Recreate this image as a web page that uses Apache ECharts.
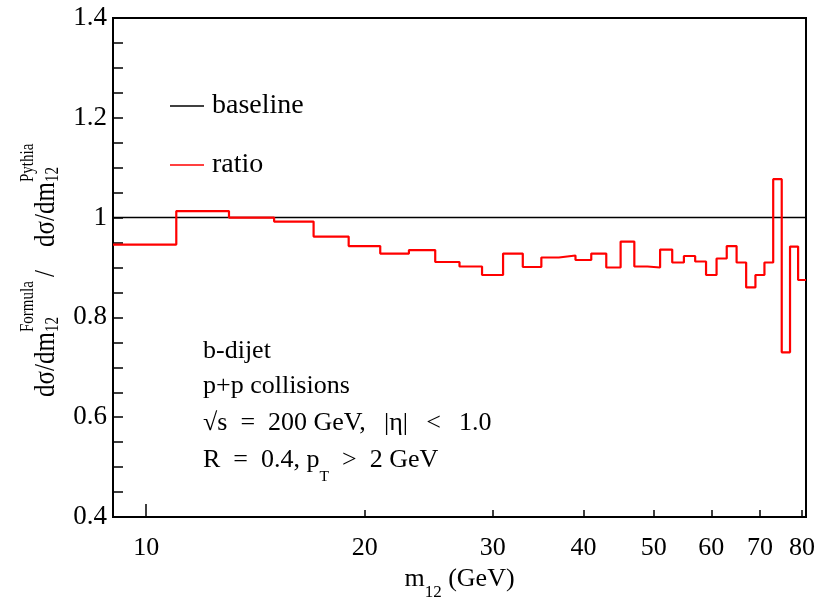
<!DOCTYPE html>
<html>
<head>
<meta charset="utf-8">
<script src="https://cdn.jsdelivr.net/npm/echarts@6/dist/echarts.min.js"></script>
<style>
  html, body { margin: 0; padding: 0; background: #fff; }
  #chart { width: 833px; height: 598px; }
</style>
</head>
<body>
<div id="chart"></div>
<script>
// bin edges of m12 (GeV), 2 GeV wide
const binEdges = [9, 11, 13, 15, 17, 19, 21, 23, 25, 27, 29, 31, 33, 35, 37, 39, 41, 43, 45,
  47, 49, 51, 53, 55, 57, 59, 61, 63, 65, 67, 69, 71, 73, 75, 77, 79, 81]
// Formula / Pythia ratio per bin
const ratio = [0.946, 1.013, 1.000, 0.992, 0.962, 0.943, 0.928, 0.935, 0.911, 0.902,
  0.885, 0.928, 0.901, 0.920, 0.924, 0.915, 0.928, 0.900, 0.952, 0.902,
  0.900, 0.936, 0.910, 0.923, 0.912, 0.885, 0.918, 0.943, 0.910, 0.860,
  0.885, 0.910, 1.077, 0.730, 0.942, 0.875]
const baseline = [1, 1]
const xTicks = [10, 20, 30, 40, 50, 60, 70, 80]
const xRange = [9, 81]
const yRange = [0.4, 1.4]

const serif = '"Liberation Serif", "DejaVu Serif", serif'
const sp = '\u2002' // wider space, like the TLatex spacing
const wsp = '\u2002\u2009'

const chart = echarts.init(document.getElementById('chart'))

// step data: each bin's value starts at its lower edge, last point closes the bin
const stepData = binEdges.map((e, i) => [e, ratio[Math.min(i, ratio.length - 1)]])

chart.setOption({
  animation: false,
  backgroundColor: '#fff',
  grid: {
    left: 113, right: 27, top: 18, bottom: 81,
    outerBoundsMode: 'none',
    show: true, borderColor: '#000', borderWidth: 2, backgroundColor: 'transparent'
  },
  legend: {
    orient: 'vertical',
    left: 165, top: 86,
    itemWidth: 34, itemHeight: 1.5, itemGap: 29,
    data: [{ name: 'baseline', icon: 'rect' }, { name: 'ratio', icon: 'rect' }],
    textStyle: { fontFamily: serif, fontSize: 28, color: '#000', lineHeight: 30, padding: [0, 0, 0, 3] }
  },
  xAxis: [
    {
      type: 'log', logBase: 10, min: xRange[0], max: xRange[1],
      axisLine: { show: false },
      axisTick: { inside: true, length: 7, customValues: xTicks.slice(1), lineStyle: { color: '#000', width: 1.5 } },
      axisLabel: { customValues: xTicks, margin: 18, color: '#000', fontFamily: serif, fontSize: 26 },
      splitLine: { show: false },
      minorTick: { show: false },
      name: '{m|m}{sub|12}{m| (GeV)}',
      nameLocation: 'middle', nameGap: 48,
      nameTextStyle: {
        rich: {
          m: { fontFamily: serif, fontSize: 26, color: '#000', lineHeight: 30, verticalAlign: 'top' },
          sub: { fontFamily: serif, fontSize: 17, color: '#000', lineHeight: 17, padding: [18, 0, 0, 0], verticalAlign: 'top' }
        }
      }
    },
    {
      // longer tick at the decade
      type: 'log', logBase: 10, min: xRange[0], max: xRange[1],
      position: 'bottom',
      axisLine: { show: false },
      axisTick: { inside: true, length: 13, customValues: [10], lineStyle: { color: '#000', width: 1.5 } },
      axisLabel: { show: false },
      splitLine: { show: false }
    }
  ],
  yAxis: {
    type: 'value', min: yRange[0], max: yRange[1], interval: 0.2,
    axisLine: { show: false },
    axisTick: { inside: true, length: 10, lineStyle: { color: '#000', width: 1.5 } },
    minorTick: { show: true, splitNumber: 4, length: 10, lineStyle: { color: '#000', width: 1.5 } },
    axisLabel: { margin: 6, color: '#000', fontFamily: serif, fontSize: 27 },
    splitLine: { show: false }
  },
  series: [
    {
      name: 'baseline',
      type: 'line',
      data: xRange.map((x, i) => [x, baseline[i]]),
      showSymbol: false, symbol: 'none',
      color: '#000',
      lineStyle: { color: '#000', width: 1.5 },
      silent: true
    },
    {
      name: 'ratio',
      type: 'line',
      step: 'end',
      data: stepData,
      showSymbol: false, symbol: 'none',
      color: '#ff0000',
      lineStyle: { color: '#ff0000', width: 2.2 },
      silent: true
    }
  ],
  graphic: [
    // y axis title, rotated, with stacked sub/superscripts
    {
      type: 'group', x: 56, y: 397, rotation: Math.PI / 2, scaleY: 1.22,
      children: [
        { type: 'text', x: 0, y: -8, style: { text: 'dσ/dm', fontFamily: serif, fontSize: 25, fill: '#000', verticalAlign: 'middle' } },
        { type: 'text', x: 65, y: -2, style: { text: '12', fontFamily: serif, fontSize: 15, fill: '#000', verticalAlign: 'middle' } },
        { type: 'text', x: 65, y: -23, style: { text: 'Formula', fontFamily: serif, fontSize: 15, fill: '#000', verticalAlign: 'middle' } },
        { type: 'text', x: 120, y: -8, style: { text: '/', fontFamily: serif, fontSize: 25, fill: '#000', verticalAlign: 'middle' } },
        { type: 'text', x: 150, y: -8, style: { text: 'dσ/dm', fontFamily: serif, fontSize: 25, fill: '#000', verticalAlign: 'middle' } },
        { type: 'text', x: 215, y: -2, style: { text: '12', fontFamily: serif, fontSize: 15, fill: '#000', verticalAlign: 'middle' } },
        { type: 'text', x: 215, y: -23, style: { text: 'Pythia', fontFamily: serif, fontSize: 15, fill: '#000', verticalAlign: 'middle' } }
      ]
    },
    // annotation block
    {
      type: 'group', x: 203, y: 339, scaleX: 1.04,
      children: [
        { type: 'text', x: 0, y: 0, style: { text: 'b-dijet', fontFamily: serif, fontSize: 25, fill: '#000', verticalAlign: 'top' } },
        { type: 'text', x: 0, y: 35, style: { text: 'p+p collisions', fontFamily: serif, fontSize: 25, fill: '#000', verticalAlign: 'top' } },
        { type: 'text', x: 0, y: 72, style: { text: '√s' + sp + '=' + sp + '200 GeV,' + wsp + '|η|' + wsp + '<' + wsp + '1.0', fontFamily: serif, fontSize: 25, fill: '#000', verticalAlign: 'top' } },
        {
          type: 'text', x: 0, y: 109,
          style: {
            text: '{n|R' + sp + '=' + sp + '0.4, p}{sub|T}{n|' + sp + '>' + sp + '2 GeV}',
            verticalAlign: 'top',
            rich: {
              n: { fontFamily: serif, fontSize: 25, fill: '#000', color: '#000', lineHeight: 25, verticalAlign: 'top' },
              sub: { fontFamily: serif, fontSize: 15, fill: '#000', color: '#000', lineHeight: 15, padding: [22, 0, 0, 0], verticalAlign: 'top' }
            }
          }
        }
      ]
    }
  ]
})
</script>
</body>
</html>
